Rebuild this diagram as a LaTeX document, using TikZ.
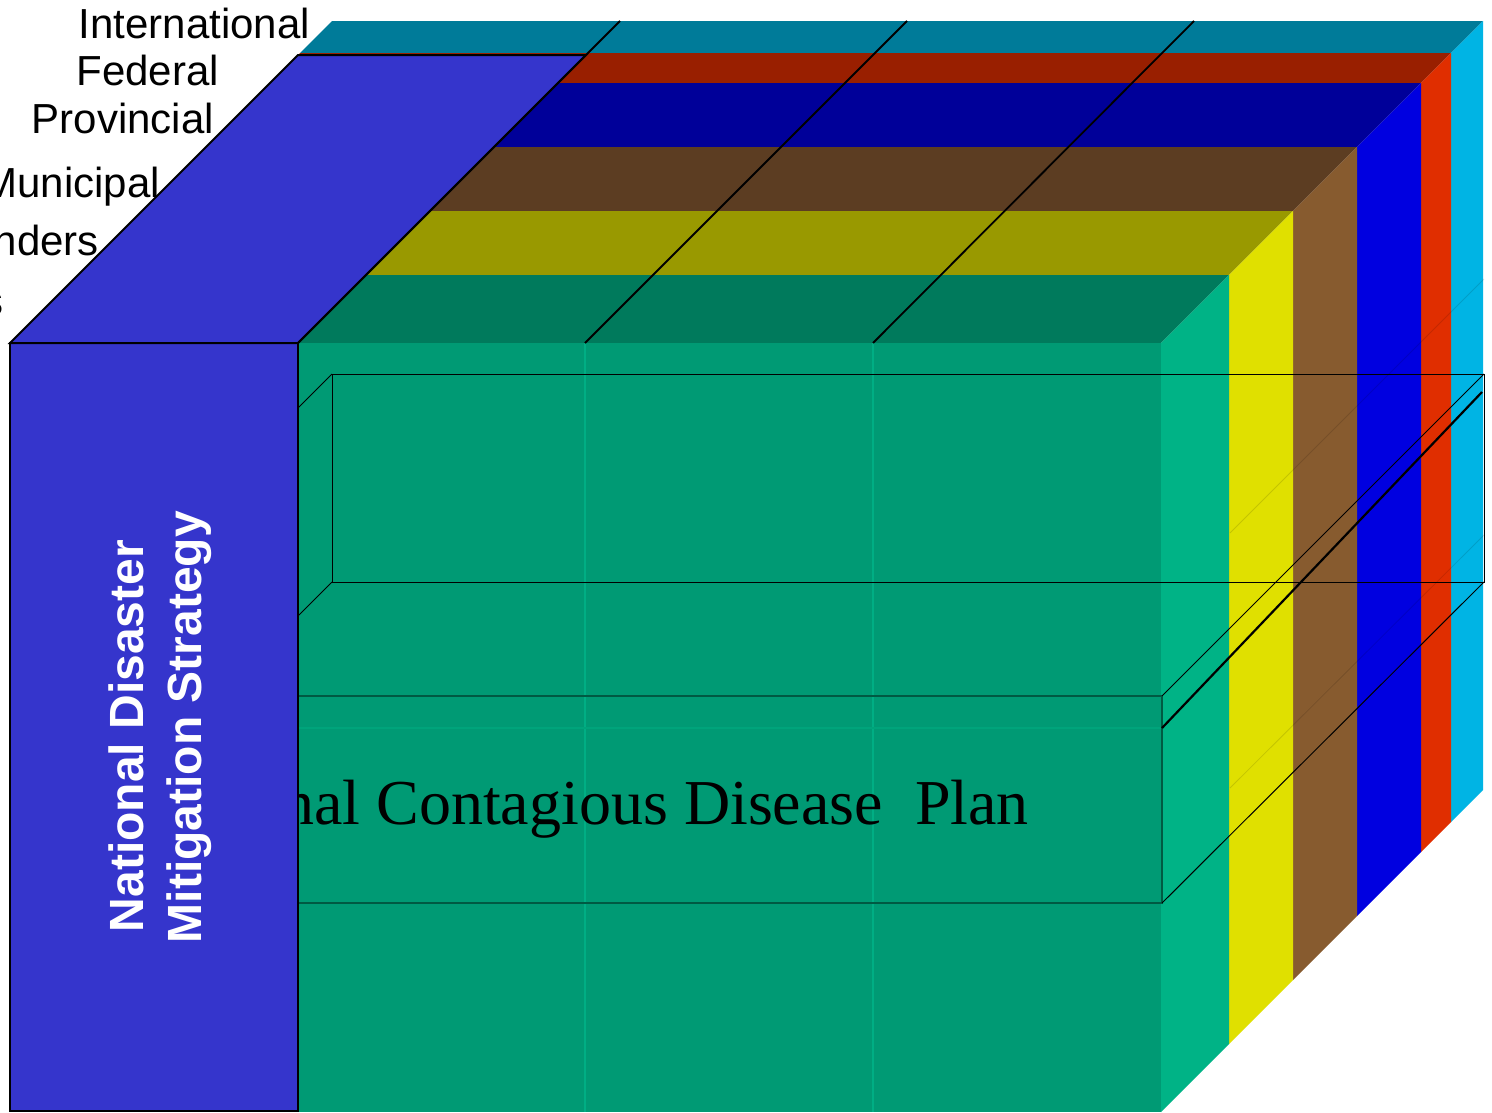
\documentclass[tikz,border=0pt]{standalone}
\usepackage{fontspec}
\setmainfont{Liberation Sans}
\newfontfamily\serifface{Liberation Serif}
\definecolor{tealtop}{HTML}{007B99}
\definecolor{cyanside}{HTML}{00B4E4}
\definecolor{redtop}{HTML}{991F00}
\definecolor{redside}{HTML}{E02E00}
\definecolor{navytop}{HTML}{000099}
\definecolor{blueside}{HTML}{0000E0}
\definecolor{browntop}{HTML}{5C3D22}
\definecolor{brownside}{HTML}{875B2F}
\definecolor{olivetop}{HTML}{999900}
\definecolor{yellowside}{HTML}{E0E000}
\definecolor{greentop}{HTML}{007A5C}
\definecolor{greenside}{HTML}{00B386}
\definecolor{frontgreen}{HTML}{009A74}
\definecolor{colline}{HTML}{00AE84}
\definecolor{darkedge}{HTML}{005A43}
\definecolor{faintedge}{HTML}{00A47B}
\definecolor{bluebox}{HTML}{3535CC}
\tikzset{
  thinline/.style={draw=black, line width=1pt},
  divline/.style={draw=black, line width=1.8pt},
  lbl/.style={font=\fontsize{42}{48}\selectfont, anchor=base east, inner sep=0pt, text=black},
  boxtext/.style={font=\bfseries\fontsize{48}{58}\selectfont, text=white, rotate=90, anchor=base, inner sep=0pt},
  blueface/.style={fill=bluebox, draw=black, line width=2pt, line join=miter}
}
\begin{document}
\begin{tikzpicture}[x=1pt,y=-1pt]
\useasboundingbox (0,0) rectangle (1492,1112);
\clip (0,0) rectangle (1492,1112);
\fill[white] (0,0) rectangle (1492,1112);
% layered slabs, back to front
\foreach \d/\e/\tc/\sc in {290/322/tealtop/cyanside, 260/290/redtop/redside, 196/260/navytop/blueside, 132/196/browntop/brownside, 68/132/olivetop/yellowside, 0/68/greentop/greenside}{
  \fill[\tc] ({10+\d},{343-\d}) -- ({1161+\d},{343-\d}) -- ({1161+\e},{343-\e}) -- ({10+\e},{343-\e}) -- cycle;
  \fill[\sc] ({1161+\d},{343-\d}) -- ({1161+\e},{343-\e}) -- ({1161+\e},{1112-\e}) -- ({1161+\d},{1112-\d}) -- cycle;
}
% front face
\fill[frontgreen] (10,343) rectangle (1161,1112);
\draw[colline, line width=2pt] (585,343) -- (585,1112);
\draw[colline, line width=2pt] (873,343) -- (873,1112);
% faint hidden edges on the side
\draw[black, opacity=0.12, line width=0.8pt] (1230,533) -- (1484,279);
\draw[black, opacity=0.12, line width=0.8pt] (1230,788) -- (1484,535);
% upper wire box
\draw[thinline] (332,374) rectangle (1484,582);
\draw[thinline] (298,408) -- (332,374);
\draw[thinline] (298,616) -- (332,582);
% plan box
\draw[faintedge, line width=1.2pt] (298,728) -- (1162,728);
\coordinate (pTR) at (1162,696);
\coordinate (pBR) at (1162,903);
\coordinate (pMR) at (1162,728);
\draw[darkedge, line width=2pt] (298,696) -- (pTR) -- (pBR) -- (298,903);
\draw[thinline] (pTR) -- (1484,374);
\draw[thinline] (pBR) -- (1484,582);
\draw[black, line width=2.2pt] (pMR) -- (1482,392);
\node[font=\serifface\fontsize{64}{72}\selectfont, anchor=base east, inner sep=0pt] (plan) at (1029,824) {National Contagious Disease~~Plan};
% blue column
\draw[blueface] (10,343) rectangle (298,1111);
\draw[blueface] (10,343) -- (298,55) -- (586,55) -- (298,343) -- cycle;
\node[boxtext] (nd1) at (143,736) {National Disaster};
\node[boxtext] (nd2) at (201,727) {Mitigation Strategy};
% top dividing lines
\draw[divline] (298,343) -- (620,21);
\draw[divline] (585,343) -- (907,21);
\draw[divline] (873,343) -- (1194,21);
% level labels
\node[lbl] (l1) at (310,38) {International};
\node[lbl] (l2) at (219,85) {Federal};
\node[lbl] (l3) at (214,133) {Provincial};
\node[lbl] (l4) at (160,197) {Municipal};
\node[lbl] (l5) at (99,255) {First Responders};
\node[lbl] (l6) at (4,315) {Citizens};
\end{tikzpicture}
\end{document}
